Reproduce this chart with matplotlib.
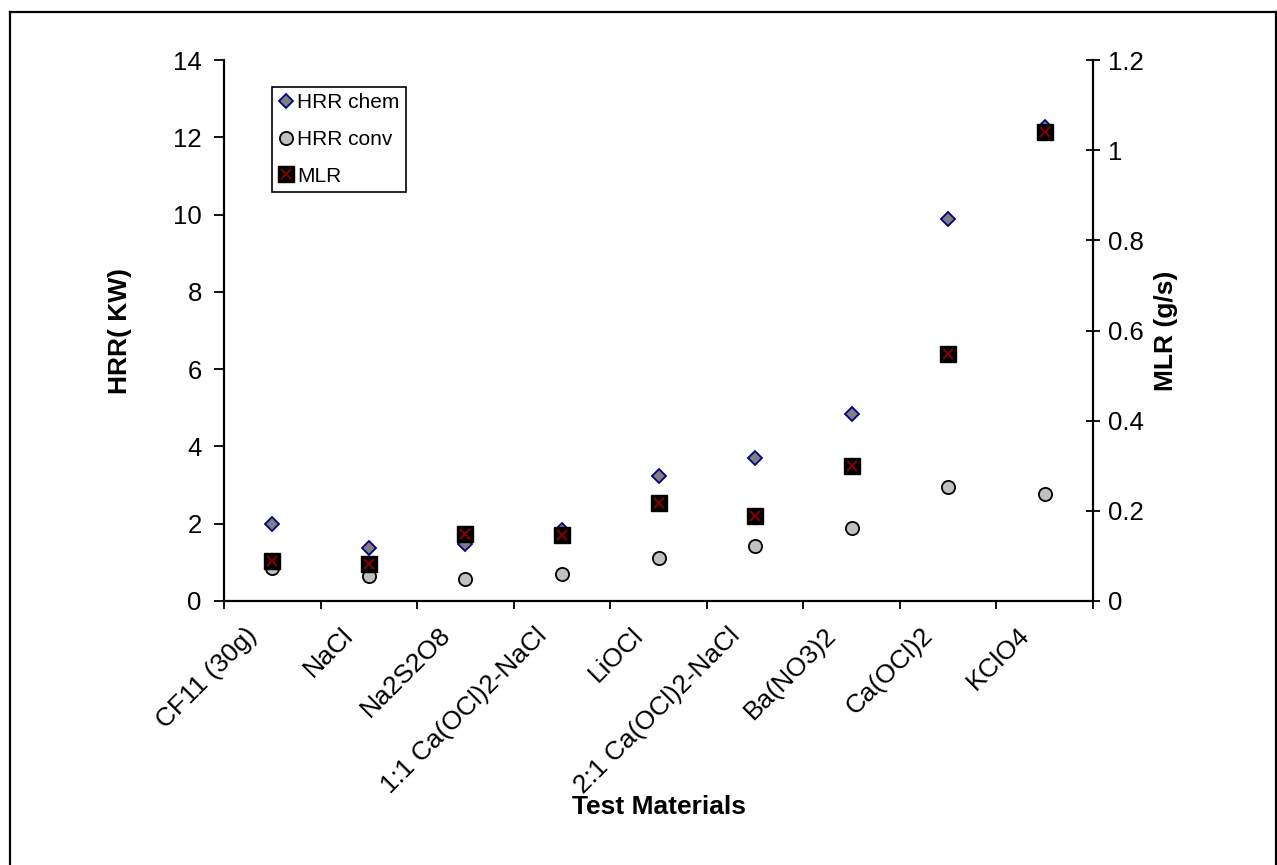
import matplotlib
matplotlib.use("Agg")
import matplotlib.pyplot as plt
from matplotlib.lines import Line2D
from matplotlib.legend_handler import HandlerTuple
from matplotlib.transforms import ScaledTranslation
import numpy as np

plt.rcParams['font.family'] = ['Liberation Sans', 'DejaVu Sans']

materials = ["CF11 (30g)", "NaCl", "Na2S2O8", "1:1 Ca(OCl)2-NaCl", "LiOCl",
             "2:1 Ca(OCl)2-NaCl", "Ba(NO3)2", "Ca(OCl)2", "KClO4"]
hrr_chem = [1.99, 1.37, 1.48, 1.85, 3.23, 3.71, 4.83, 9.88, 12.27]
hrr_conv = [0.85, 0.65, 0.57, 0.70, 1.12, 1.43, 1.90, 2.94, 2.76]
mlr = [0.089, 0.081, 0.148, 0.147, 0.218, 0.189, 0.300, 0.547, 1.040]

left_ticks = [0, 2, 4, 6, 8, 10, 12, 14]
right_ticks = [0, 0.2, 0.4, 0.6, 0.8, 1.0, 1.2]
right_labels = ["0", "0.2", "0.4", "0.6", "0.8", "1", "1.2"]

W, H = 1277, 865
fig = plt.figure(figsize=(W / 100, H / 100), dpi=100)

# outer frame
frame_kw = dict(color='black', lw=1.6, transform=fig.transFigure)
fig.add_artist(Line2D([10 / W, 1276 / W], [1 - 12 / H, 1 - 12 / H], **frame_kw))
fig.add_artist(Line2D([10 / W, 10 / W], [1 - 12 / H, 0], **frame_kw))
fig.add_artist(Line2D([1276 / W, 1276 / W], [1 - 12 / H, 0], **frame_kw))

x0, x1, y0, y1 = 224, 1093, 60, 601
ax = fig.add_axes([x0 / W, 1 - y1 / H, (x1 - x0) / W, (y1 - y0) / H])
ax2 = ax.twinx()

x = np.arange(len(materials))

h1, = ax.plot(x, hrr_chem, linestyle='none', marker='D', markersize=7.5,
              markerfacecolor='#808080', markeredgecolor='#000080', markeredgewidth=1.3)
h2, = ax.plot(x, hrr_conv, linestyle='none', marker='o', markersize=9.5,
              markerfacecolor='#c0c0c0', markeredgecolor='black', markeredgewidth=1.3)
h3a, = ax2.plot(x, mlr, linestyle='none', marker='s', markersize=11.5,
                markerfacecolor='black', markeredgecolor='black')
h3b, = ax2.plot(x, mlr, linestyle='none', marker='x', markersize=6.5,
                markeredgecolor='#800000', markeredgewidth=1.5)

ax.set_xlim(-0.5, len(materials) - 0.5)
ax.set_ylim(0, 14)
ax2.set_ylim(0, 1.2)

ax.set_yticks(left_ticks)
ax.set_yticklabels([str(t) for t in left_ticks])
ax2.set_yticks(right_ticks)
ax2.set_yticklabels(right_labels)

# category labels at centres, tick marks on category boundaries
ax.set_xticks(x)
ax.set_xticklabels(materials, rotation=45, ha='right', va='center', rotation_mode='anchor')
ax.set_xticks(np.arange(len(materials) + 1) - 0.5, minor=True)
ax.tick_params(axis='x', which='major', length=0, pad=22, labelsize=19)
ax.tick_params(axis='x', which='minor', length=6, width=1.3, direction='out')
for lab in ax.get_xticklabels():
    lab.set_transform(lab.get_transform() + ScaledTranslation(-19 / 100, 0, fig.dpi_scale_trans))

ax.tick_params(axis='y', which='major', length=7, width=1.3, direction='out', pad=9, labelsize=18.5)
ax2.tick_params(axis='y', which='major', length=10, width=1.3, direction='inout', pad=6, labelsize=18.5)

for a in (ax, ax2):
    a.spines['top'].set_visible(False)
    for s in ('left', 'right', 'bottom'):
        a.spines[s].set_linewidth(1.6)
ax.spines['right'].set_visible(False)
ax2.spines['left'].set_visible(False)
ax2.spines['bottom'].set_visible(False)

ax.set_ylabel("HRR( KW)", fontsize=19, fontweight='bold', va='center')
ax.yaxis.set_label_coords((120 - x0) / (x1 - x0), 0.5)
ax2.set_ylabel("MLR (g/s)", fontsize=19, fontweight='bold', va='center')
ax2.yaxis.set_label_coords((1166 - x0) / (x1 - x0), 0.5)
ax.set_xlabel("Test Materials", fontsize=19, fontweight='bold', va='center')
ax.xaxis.set_label_coords(0.5, -(807 - y1) / (y1 - y0))

leg = ax2.legend([h1, h2, (h3a, h3b)], ["HRR chem", "HRR conv", "MLR"],
                 handler_map={tuple: HandlerTuple(ndivide=1, pad=0)},
                 loc='upper left',
                 bbox_to_anchor=((272 - x0) / (x1 - x0), (y1 - 87) / (y1 - y0)),
                 borderaxespad=0, fontsize=15, frameon=True, fancybox=False,
                 handlelength=0.7, handletextpad=0.2, labelspacing=0.85, borderpad=0.3)
leg.get_frame().set_edgecolor('black')
leg.get_frame().set_linewidth(1.2)
leg.get_frame().set_alpha(1)

fig.savefig("out.png", dpi=100)
